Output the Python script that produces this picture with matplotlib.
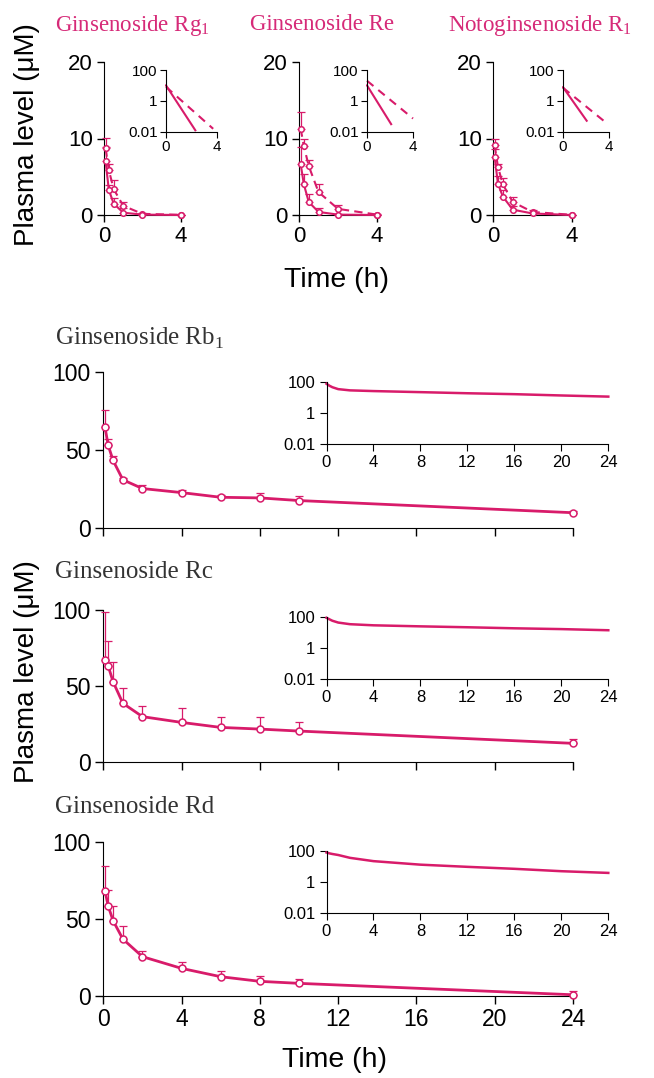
import numpy as np
import matplotlib
matplotlib.use('Agg')
import matplotlib.pyplot as plt

plt.rcParams['font.family'] = ['Liberation Sans', 'DejaVu Sans']
plt.rcParams['mathtext.fontset'] = 'custom'
plt.rcParams['mathtext.rm'] = 'Liberation Serif'

W, H = 654, 1078
PINK = '#d81b6a'
TPINK = '#d62a78'

# ---- top row: two series (solid, dashed) over 0-4 h ----
t_short = [0.083, 0.25, 0.5, 1, 2, 4]

rg1_solid = [7.0, 3.3, 1.5, 0.3, 0.05, 0.0]
rg1_solid_sd = [1.9, 0.6, 0.7, 0.6, 0.05, 0.0]
rg1_dash = [8.7, 5.9, 3.4, 1.2, 0.15, 0.02]
rg1_dash_sd = [1.4, 0.8, 1.2, 0.5, 0.1, 0.02]

re_solid = [6.7, 4.0, 1.7, 0.4, 0.05, 0.0]
re_solid_sd = [2.2, 1.4, 1.0, 0.5, 0.05, 0.0]
re_dash = [11.3, 9.0, 6.4, 3.0, 0.8, 0.05]
re_dash_sd = [2.1, 1.0, 0.8, 1.1, 0.5, 0.05]

r1_solid = [7.6, 4.1, 2.4, 0.7, 0.2, 0.0]
r1_solid_sd = [1.0, 1.0, 0.9, 0.5, 0.2, 0.0]
r1_dash = [9.1, 6.3, 4.0, 1.7, 0.4, 0.02]
r1_dash_sd = [0.8, 0.4, 0.8, 0.7, 0.3, 0.02]

# inset (log) lines of the top row
rg1_in_solid_t, rg1_in_solid = [0, 2.3], [10, 0.012]
rg1_in_dash_t, rg1_in_dash = [0, 3.7], [8, 0.015]
re_in_solid_t, re_in_solid = [0, 2.1], [10, 0.03]
re_in_dash_t, re_in_dash = [0, 4.0], [20, 0.07]
r1_in_solid_t, r1_in_solid = [0, 2.06], [7.6, 0.05]
r1_in_dash_t, r1_in_dash = [0, 3.9], [7, 0.03]

# ---- bottom rows: 0-24 h ----
t_long = [0.083, 0.25, 0.5, 1, 2, 4, 6, 8, 10, 24]

rb1 = [64.6, 52.8, 43.1, 30.7, 25.1, 22.5, 19.5, 19.1, 17.4, 9.6]
rb1_sd = [10.7, 4.2, 2.6, 1.3, 2.2, 1.7, 1.7, 3.0, 3.0, 1.4]
rc = [67.0, 63.1, 52.7, 38.5, 29.7, 25.9, 22.6, 21.5, 20.2, 12.1]
rc_sd = [32.0, 16.7, 13.2, 9.9, 7.2, 9.3, 7.1, 8.2, 6.2, 2.7]
rd = [68.3, 58.3, 48.8, 36.9, 25.5, 17.9, 12.5, 9.5, 8.2, 0.8]
rd_sd = [15.9, 10.4, 9.5, 8.5, 3.9, 4.3, 3.9, 3.7, 2.8, 2.4]

t_inset = [0, 0.25, 0.5, 1, 2, 4, 8, 12, 16, 20, 24]
rb1_in = [80, 60, 48, 36, 30, 27, 23, 19.5, 17, 14, 11.8]
rc_in = [85, 68, 55, 42, 33, 28, 24, 21, 18, 16, 13.5]
rd_in = [80, 70, 64, 55, 36, 22, 13, 9.4, 7, 4.9, 3.8]


def px_axes(fig, xp, yp, xr, yr, xpad, ypad, ylog=False):
    # xp: pixel columns of xr ends, yp: pixel rows of yr ends
    ly = np.log10(yr) if ylog else np.array(yr, float)
    sx = (xp[1] - xp[0]) / (xr[1] - xr[0])
    sy = (yp[0] - yp[1]) / (ly[1] - ly[0])
    left = xp[0] - xpad[0] * sx
    right = xp[1] + xpad[1] * sx
    bottom = yp[0] + ypad[0] * sy
    top = yp[1] - ypad[1] * sy
    ax = fig.add_axes([left / W, 1 - bottom / H, (right - left) / W, (bottom - top) / H])
    ax.set_xlim(xr[0] - xpad[0], xr[1] + xpad[1])
    lo, hi = ly[0] - ypad[0], ly[1] + ypad[1]
    if ylog:
        ax.set_yscale('log')
        ax.set_ylim(10 ** lo, 10 ** hi)
        ax.minorticks_off()
    else:
        ax.set_ylim(lo, hi)
    ax.patch.set_visible(False)
    for s in ['top', 'right']:
        ax.spines[s].set_visible(False)
    ax.spines['left'].set_position(('data', xr[0]))
    ax.spines['bottom'].set_position(('data', yr[0]))
    ax.spines['left'].set_bounds(yr[0], yr[1])
    ax.spines['bottom'].set_bounds(xr[0], xr[1])
    return ax


def series(ax, t, c, sd, ls='-', lw=1.6, ms=4.5):
    ax.errorbar(t, c, yerr=[np.zeros(len(sd)), sd], fmt='none', ecolor=PINK,
                elinewidth=0.9, capsize=3, capthick=0.9, clip_on=False, zorder=3)
    line, = ax.plot(t, c, color=PINK, lw=lw, ls=ls, clip_on=False, zorder=4)
    if ls == '--':
        line.set_dashes((4, 2.5))
    ax.plot(t, c, 'o', mfc='white', mec=PINK, ms=ms, mew=1.1, clip_on=False, zorder=5)


fig = plt.figure(figsize=(W / 100, H / 100), dpi=100)

top_panels = [
    ((104, 181), (166, 217), r'Ginsenoside Rg$_1$', 55,
     (rg1_solid, rg1_solid_sd, rg1_dash, rg1_dash_sd),
     (rg1_in_solid_t, rg1_in_solid, rg1_in_dash_t, rg1_in_dash)),
    ((299, 377), (367, 413), 'Ginsenoside Re', 250,
     (re_solid, re_solid_sd, re_dash, re_dash_sd),
     (re_in_solid_t, re_in_solid, re_in_dash_t, re_in_dash)),
    ((493, 572), (563, 609), r'Notoginsenoside R$_1$', 448,
     (r1_solid, r1_solid_sd, r1_dash, r1_dash_sd),
     (r1_in_solid_t, r1_in_solid, r1_in_dash_t, r1_in_dash)),
]

for xp, xin, title, tx, d, di in top_panels:
    ax = px_axes(fig, xp, (215, 62), (0, 4), (0, 20), (0.45, 0.45), (1.2, 0.5))
    series(ax, t_short, d[2], d[3], ls='--', lw=1.5, ms=4)
    series(ax, t_short, d[0], d[1], ls='-', lw=1.5, ms=4)
    ax.set_xticks([0, 4])
    ax.set_yticks([0, 10, 20])
    ax.tick_params(labelsize=16, length=5, width=1, pad=3)
    fig.text(tx / W, 1 - 25 / H, title, family='Liberation Serif', fontsize=16.5,
             color=TPINK, ha='left', va='center')

    axi = px_axes(fig, xin, (131.5, 70), (0, 4), (0.01, 100), (0.1, 0.1), (0.0, 0.1), ylog=True)
    axi.plot(di[0], di[1], color=PINK, lw=1.5)
    l2, = axi.plot(di[2], di[3], color=PINK, lw=1.5, ls='--')
    l2.set_dashes((4, 3))
    axi.set_xticks([0, 4])
    axi.set_yticks([0.01, 1, 100])
    axi.set_yticklabels(['0.01', '1', '100'])
    axi.tick_params(labelsize=11, length=4, width=0.8, pad=2)

fig.text(27 / W, 1 - 135 / H, 'Plasma level (\u03bcM)', rotation=90, fontsize=20,
         ha='center', va='center')
fig.text(337 / W, 1 - 280 / H, 'Time (h)', fontsize=20.5, ha='center', va='center')

bottom_panels = [
    ((527.7, 371.7), (444, 382.3), r'Ginsenoside Rb$_1$', 338, rb1, rb1_sd, rb1_in, False),
    ((761.7, 610), (679, 616.7), 'Ginsenoside Rc', 572, rc, rc_sd, rc_in, False),
    ((996, 841.7), (912.7, 851), 'Ginsenoside Rd', 807, rd, rd_sd, rd_in, True),
]

for yp, yin, title, ty, c, sd, cin, labels in bottom_panels:
    ax = px_axes(fig, (103.3, 573), yp, (0, 24), (0, 100), (0.6, 1.5), (5, 2))
    series(ax, t_long, c, sd, lw=2.0, ms=5)
    ax.set_xticks(range(0, 25, 4))
    ax.set_yticks([0, 50, 100])
    ax.tick_params(labelsize=16.5, length=6, width=1, pad=3)
    if not labels:
        ax.set_xticklabels([])
    fig.text(55 / W, 1 - ty / H, title, family='Liberation Serif', fontsize=18,
             color='#333333', ha='left', va='center')

    axi = px_axes(fig, (326.5, 608.3), yin, (0, 24), (0.01, 100), (0.3, 0.3), (0.0, 0.1), ylog=True)
    axi.plot(t_inset, cin, color=PINK, lw=1.8)
    axi.set_xticks(range(0, 25, 4))
    axi.set_yticks([0.01, 1, 100])
    axi.set_yticklabels(['0.01', '1', '100'])
    axi.tick_params(labelsize=12, length=5, width=0.8, pad=3)

fig.text(27 / W, 1 - 672 / H, 'Plasma level (\u03bcM)', rotation=90, fontsize=20,
         ha='center', va='center')
fig.text(334 / W, 1 - 1060 / H, 'Time (h)', fontsize=20.5, ha='center', va='center')

fig.savefig('out.png', dpi=100)
